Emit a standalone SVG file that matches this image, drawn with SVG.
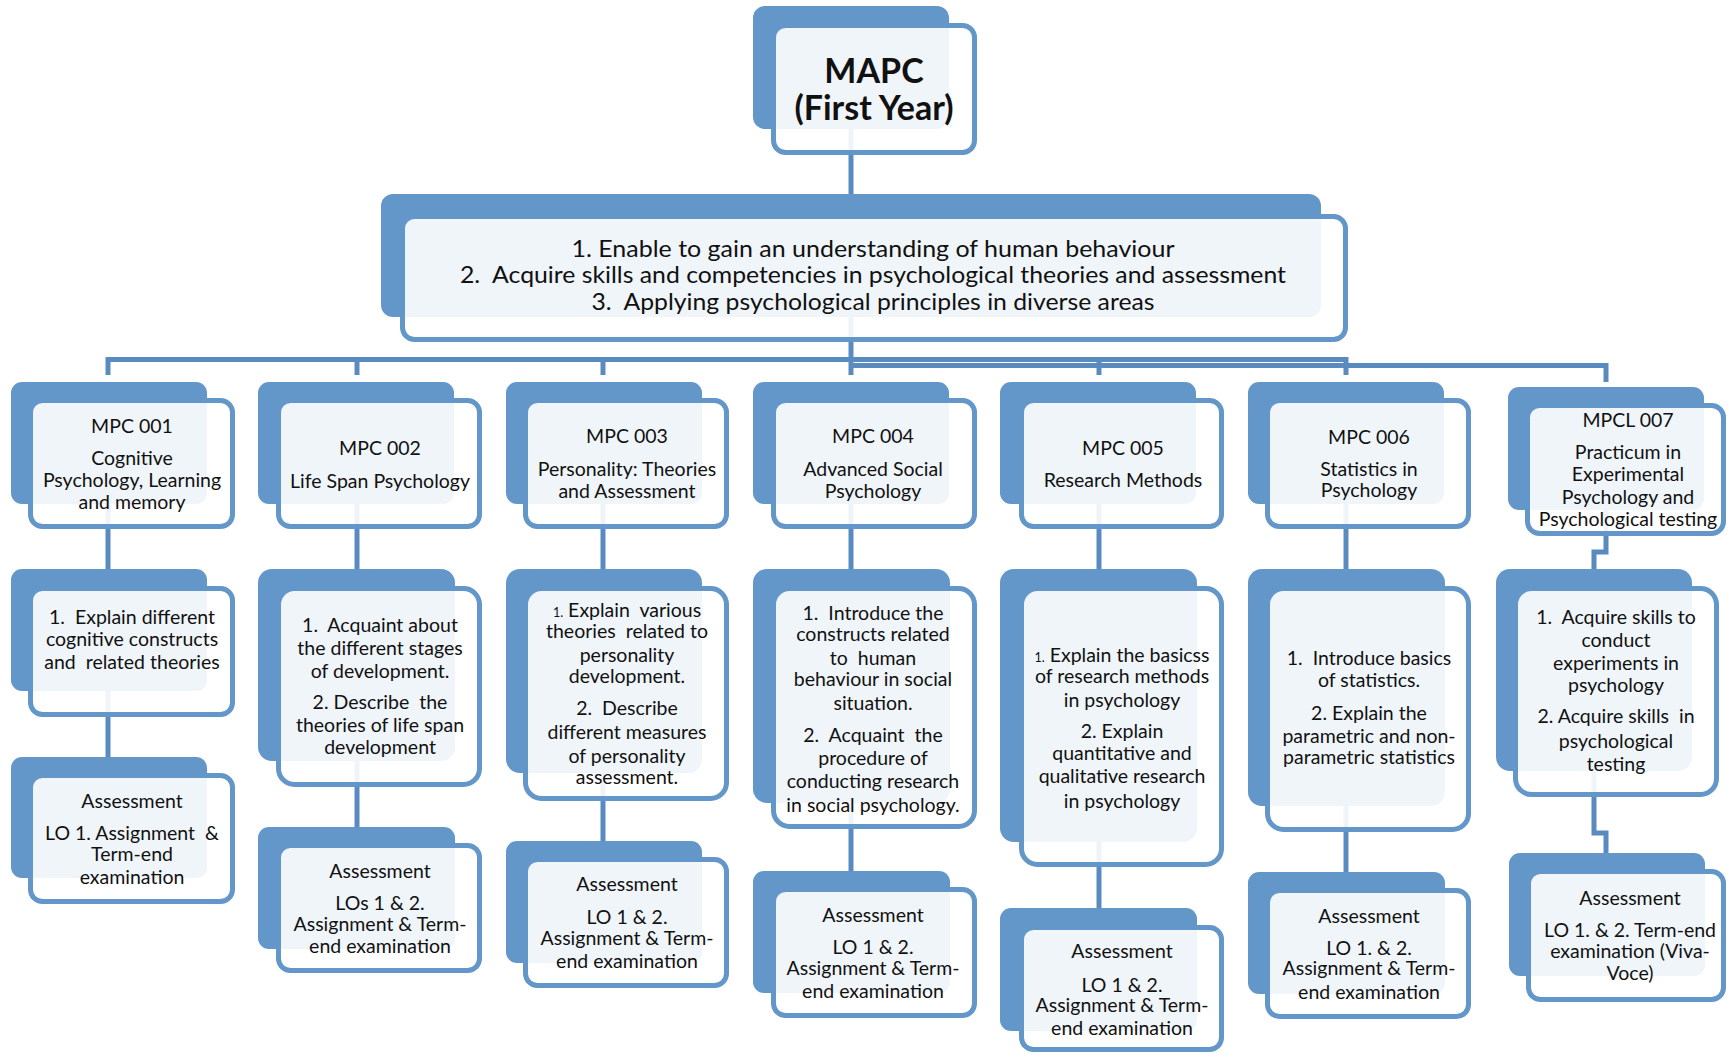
<svg xmlns="http://www.w3.org/2000/svg" width="1728" height="1054" viewBox="0 0 1728 1054">
<style>
.bk{fill:#6396C9}
.fr{fill:#ffffff;fill-opacity:0.9;stroke:#6396C9;stroke-width:5}
.cn{stroke:#5A8BC0;stroke-width:5;fill:none}
text{font-family:Lato,"Liberation Sans",sans-serif;font-size:19.5px;text-anchor:middle;fill:#111;white-space:pre}
.h{font-size:34px;font-weight:bold}
.o{font-size:23px}
.s{font-size:12.5px}
</style>
<rect width="1728" height="1054" fill="#ffffff"/>
<g id="connectors">
<line class="cn" x1="851" y1="100" x2="851" y2="200"/>
<line class="cn" x1="851" y1="300" x2="851" y2="362"/>
<line class="cn" x1="106" y1="359.5" x2="1348" y2="359.5"/>
<polyline class="cn" points="851,365.5 1606,365.5 1606,382" stroke-width="4.5"/>
<line class="cn" x1="108" y1="357" x2="108" y2="375"/>
<line class="cn" x1="357" y1="357" x2="357" y2="375"/>
<line class="cn" x1="603" y1="357" x2="603" y2="375"/>
<line class="cn" x1="851" y1="357" x2="851" y2="375"/>
<line class="cn" x1="1099" y1="357" x2="1099" y2="375"/>
<line class="cn" x1="1346" y1="357" x2="1346" y2="375"/>
<line class="cn" x1="108" y1="480" x2="108" y2="572"/>
<line class="cn" x1="357" y1="480" x2="357" y2="572"/>
<line class="cn" x1="603" y1="480" x2="603" y2="572"/>
<line class="cn" x1="851" y1="480" x2="851" y2="572"/>
<line class="cn" x1="1099" y1="480" x2="1099" y2="572"/>
<line class="cn" x1="1346" y1="480" x2="1346" y2="572"/>
<polyline class="cn" points="1606,490 1606,552 1594,552 1594,572"/>
<line class="cn" x1="108" y1="680" x2="108" y2="760"/>
<line class="cn" x1="357" y1="740" x2="357" y2="830"/>
<line class="cn" x1="603" y1="760" x2="603" y2="844"/>
<line class="cn" x1="851" y1="790" x2="851" y2="874"/>
<line class="cn" x1="1099" y1="830" x2="1099" y2="911"/>
<line class="cn" x1="1346" y1="790" x2="1346" y2="875"/>
<polyline class="cn" points="1594,760 1594,833 1606,833 1606,856"/>
</g>
<g id="mapc">
<rect class="bk" x="753" y="6" width="196" height="123" rx="12"/>
<rect class="fr" x="773.5" y="25.5" width="201" height="127" rx="12"/>
<text class="h" x="874" y="83">MAPC</text>
<text class="h" x="874" y="120">(First Year)</text>
</g>
<g id="objectives">
<rect class="bk" x="381" y="194" width="940" height="123" rx="12"/>
<rect class="fr" x="402.5" y="216.5" width="943" height="123" rx="12"/>
<text class="o" x="873" y="257" textLength="603" lengthAdjust="spacingAndGlyphs">1. Enable to gain an understanding of human behaviour</text>
<text class="o" x="873" y="283" textLength="826" lengthAdjust="spacingAndGlyphs">2.&#160; Acquire skills and competencies in psychological theories and assessment</text>
<text class="o" x="873" y="310" textLength="563" lengthAdjust="spacingAndGlyphs">3.&#160; Applying psychological principles in diverse areas</text>
</g>
<g id="mpc001">
<rect class="bk" x="11" y="382" width="196" height="122" rx="11"/>
<rect class="fr" x="30.5" y="400.5" width="202" height="126" rx="12"/>
<text x="132" y="433">MPC 001</text>
<text x="132" y="465">Cognitive</text>
<text x="132" y="487">Psychology, Learning</text>
<text x="132" y="509">and memory</text>
</g>
<g id="mpc002">
<rect class="bk" x="258" y="382" width="196" height="122" rx="11"/>
<rect class="fr" x="278.5" y="400.5" width="201" height="126" rx="12"/>
<text x="380" y="455">MPC 002</text>
<text x="380" y="488">Life Span Psychology</text>
</g>
<g id="mpc003">
<rect class="bk" x="506" y="382" width="196" height="122" rx="11"/>
<rect class="fr" x="525.5" y="400.5" width="201" height="126" rx="12"/>
<text x="627" y="443">MPC 003</text>
<text x="627" y="476">Personality: Theories</text>
<text x="627" y="498">and Assessment</text>
</g>
<g id="mpc004">
<rect class="bk" x="753" y="382" width="196" height="122" rx="11"/>
<rect class="fr" x="773.5" y="400.5" width="201" height="126" rx="12"/>
<text x="873" y="443">MPC 004</text>
<text x="873" y="476">Advanced Social</text>
<text x="873" y="498">Psychology</text>
</g>
<g id="mpc005">
<rect class="bk" x="1000" y="382" width="196" height="122" rx="11"/>
<rect class="fr" x="1021.5" y="400.5" width="200" height="126" rx="12"/>
<text x="1123" y="455">MPC 005</text>
<text x="1123" y="487">Research Methods</text>
</g>
<g id="mpc006">
<rect class="bk" x="1248" y="382" width="196" height="122" rx="11"/>
<rect class="fr" x="1267.5" y="400.5" width="201" height="126" rx="12"/>
<text x="1369" y="444">MPC 006</text>
<text x="1369" y="476">Statistics in</text>
<text x="1369" y="497">Psychology</text>
</g>
<g id="mpcl007">
<rect class="bk" x="1508" y="387" width="196" height="123" rx="11"/>
<rect class="fr" x="1527.5" y="405.5" width="196" height="128" rx="12"/>
<text x="1628" y="427">MPCL 007</text>
<text x="1628" y="459">Practicum in</text>
<text x="1628" y="481">Experimental</text>
<text x="1628" y="504">Psychology and</text>
<text x="1628" y="526">Psychological testing</text>
</g>
<g id="lo001">
<rect class="bk" x="11" y="569" width="196" height="122" rx="11"/>
<rect class="fr" x="30.5" y="588.5" width="202" height="126" rx="12"/>
<text x="132" y="624">1.&#160; Explain different</text>
<text x="132" y="646">cognitive constructs</text>
<text x="132" y="669">and&#160; related theories</text>
</g>
<g id="lo002">
<rect class="bk" x="258" y="569" width="197" height="192" rx="14"/>
<rect class="fr" x="278.5" y="588.5" width="201" height="196" rx="16"/>
<text x="380" y="632">1.&#160; Acquaint about</text>
<text x="380" y="655">the different stages</text>
<text x="380" y="678">of development.</text>
<text x="380" y="709">2. Describe&#160; the</text>
<text x="380" y="732">theories of life span</text>
<text x="380" y="754">development</text>
</g>
<g id="lo003">
<rect class="bk" x="506" y="569" width="196" height="204" rx="14"/>
<rect class="fr" x="525.5" y="588.5" width="201" height="210" rx="16"/>
<text x="627" y="617"><tspan class="s">1.</tspan> Explain&#160; various</text>
<text x="627" y="638">theories&#160; related to</text>
<text x="627" y="662">personality</text>
<text x="627" y="683">development.</text>
<text x="627" y="715">2.&#160; Describe</text>
<text x="627" y="739">different measures</text>
<text x="627" y="763">of personality</text>
<text x="627" y="784">assessment.</text>
</g>
<g id="lo004">
<rect class="bk" x="753" y="569" width="197" height="234" rx="14"/>
<rect class="fr" x="773.5" y="588.5" width="201" height="238" rx="16"/>
<text x="873" y="620">1.&#160; Introduce the</text>
<text x="873" y="641">constructs related</text>
<text x="873" y="665">to&#160; human</text>
<text x="873" y="686">behaviour in social</text>
<text x="873" y="710">situation.</text>
<text x="873" y="742">2.&#160; Acquaint&#160; the</text>
<text x="873" y="765">procedure of</text>
<text x="873" y="788">conducting research</text>
<text x="873" y="812">in social psychology.</text>
</g>
<g id="lo005">
<rect class="bk" x="1000" y="569" width="197" height="273" rx="14"/>
<rect class="fr" x="1021.5" y="588.5" width="200" height="276" rx="16"/>
<text x="1122" y="662"><tspan class="s">1.</tspan> Explain the basicss</text>
<text x="1122" y="683">of research methods</text>
<text x="1122" y="707">in psychology</text>
<text x="1122" y="738">2. Explain</text>
<text x="1122" y="760">quantitative and</text>
<text x="1122" y="783">qualitative research</text>
<text x="1122" y="808">in psychology</text>
</g>
<g id="lo006">
<rect class="bk" x="1248" y="569" width="197" height="237" rx="14"/>
<rect class="fr" x="1267.5" y="588.5" width="201" height="241" rx="16"/>
<text x="1369" y="665">1.&#160; Introduce basics</text>
<text x="1369" y="687">of statistics.</text>
<text x="1369" y="720">2. Explain the</text>
<text x="1369" y="743">parametric and non-</text>
<text x="1369" y="764">parametric statistics</text>
</g>
<g id="lo007">
<rect class="bk" x="1496" y="569" width="196" height="202" rx="14"/>
<rect class="fr" x="1515.5" y="588.5" width="201" height="206" rx="16"/>
<text x="1616" y="624">1.&#160; Acquire skills to</text>
<text x="1616" y="647">conduct</text>
<text x="1616" y="670">experiments in</text>
<text x="1616" y="692">psychology</text>
<text x="1616" y="723">2. Acquire skills&#160; in</text>
<text x="1616" y="748">psychological</text>
<text x="1616" y="771">testing</text>
</g>
<g id="as001">
<rect class="bk" x="11" y="757" width="196" height="121" rx="11"/>
<rect class="fr" x="30.5" y="775.5" width="202" height="126" rx="12"/>
<text x="132" y="808">Assessment</text>
<text x="132" y="840">LO 1. Assignment&#160; &amp;</text>
<text x="132" y="861">Term-end</text>
<text x="132" y="884">examination</text>
</g>
<g id="as002">
<rect class="bk" x="258" y="827" width="197" height="122" rx="11"/>
<rect class="fr" x="278.5" y="845.5" width="201" height="125" rx="12"/>
<text x="380" y="878">Assessment</text>
<text x="380" y="910">LOs 1 &amp; 2.</text>
<text x="380" y="931">Assignment &amp; Term-</text>
<text x="380" y="953">end examination</text>
</g>
<g id="as003">
<rect class="bk" x="506" y="841" width="196" height="122" rx="11"/>
<rect class="fr" x="525.5" y="859.5" width="201" height="126" rx="12"/>
<text x="627" y="891">Assessment</text>
<text x="627" y="924">LO 1 &amp; 2.</text>
<text x="627" y="945">Assignment &amp; Term-</text>
<text x="627" y="968">end examination</text>
</g>
<g id="as004">
<rect class="bk" x="753" y="871" width="197" height="122" rx="11"/>
<rect class="fr" x="773.5" y="889.5" width="201" height="126" rx="12"/>
<text x="873" y="922">Assessment</text>
<text x="873" y="954">LO 1 &amp; 2.</text>
<text x="873" y="975">Assignment &amp; Term-</text>
<text x="873" y="998">end examination</text>
</g>
<g id="as005">
<rect class="bk" x="1000" y="908" width="197" height="123" rx="11"/>
<rect class="fr" x="1021.5" y="927.5" width="200" height="122" rx="12"/>
<text x="1122" y="958">Assessment</text>
<text x="1122" y="992">LO 1 &amp; 2.</text>
<text x="1122" y="1012">Assignment &amp; Term-</text>
<text x="1122" y="1035">end examination</text>
</g>
<g id="as006">
<rect class="bk" x="1248" y="872" width="197" height="122" rx="11"/>
<rect class="fr" x="1267.5" y="890.5" width="201" height="126" rx="12"/>
<text x="1369" y="923">Assessment</text>
<text x="1369" y="955">LO 1. &amp; 2.</text>
<text x="1369" y="975">Assignment &amp; Term-</text>
<text x="1369" y="999">end examination</text>
</g>
<g id="as007">
<rect class="bk" x="1509" y="853" width="196" height="123" rx="11"/>
<rect class="fr" x="1528.5" y="871.5" width="195" height="128" rx="12"/>
<text x="1630" y="905">Assessment</text>
<text x="1630" y="937">LO 1. &amp; 2. Term-end</text>
<text x="1630" y="958">examination (Viva-</text>
<text x="1630" y="980">Voce)</text>
</g>
</svg>
